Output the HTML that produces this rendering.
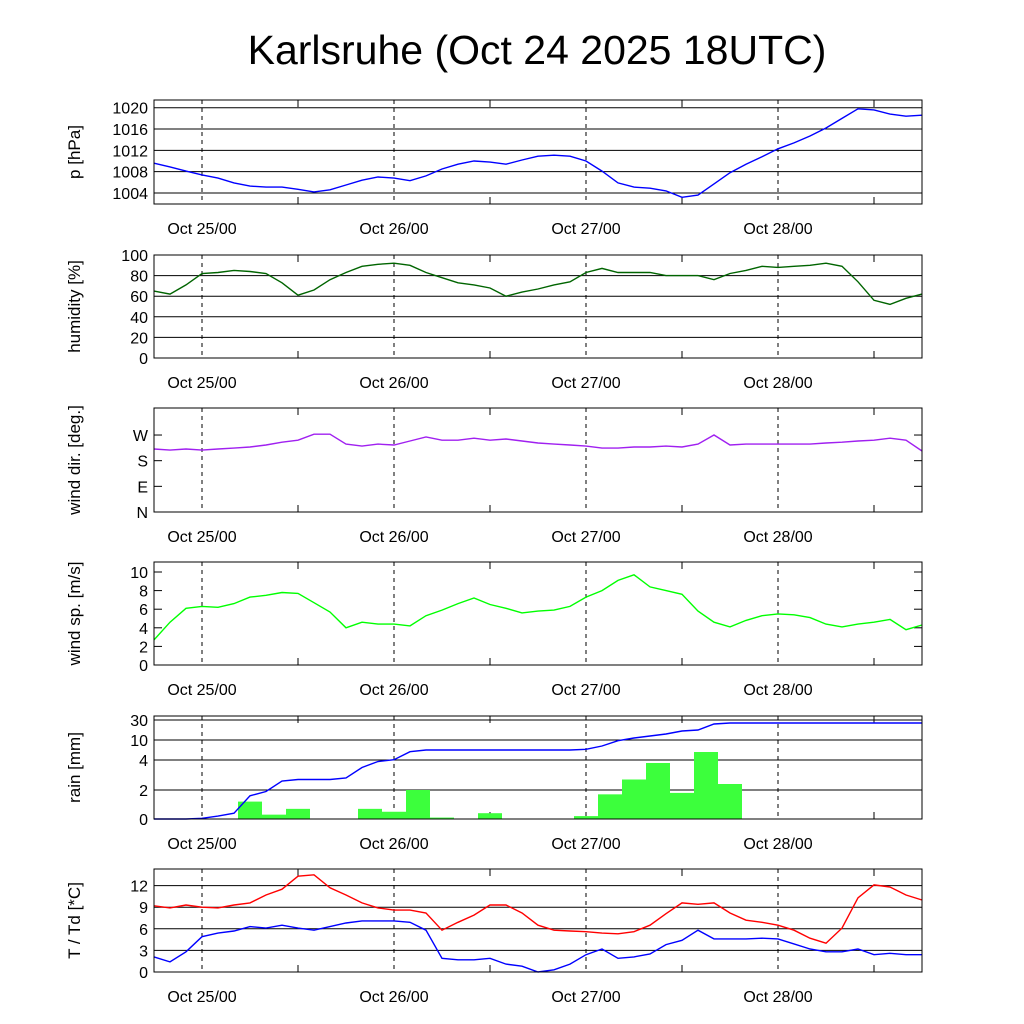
<!DOCTYPE html>
<html><head><meta charset="utf-8"><style>
body{margin:0;background:#fff;}
svg{display:block;font-family:"Liberation Sans",sans-serif;}
</style></head><body>
<svg id="c" width="1024" height="1024" viewBox="0 0 1024 1024">
<text x="537" y="64" font-size="41" text-anchor="middle">Karlsruhe (Oct 24 2025 18UTC)</text>
</svg>
<script>
// time in hours since Oct 24 18UTC, 2-hourly samples
const hours = Array.from({length:49},(_,i)=>i*2);
const dayLabels = ["Oct 25/00","Oct 26/00","Oct 27/00","Oct 28/00"];
const pressure = [1009.6,1008.9,1008.1,1007.4,1006.8,1005.9,1005.3,1005.1,1005.1,1004.7,1004.2,1004.6,1005.5,1006.4,1007,1006.8,1006.3,1007.2,1008.5,1009.4,1010,1009.8,1009.4,1010.2,1010.9,1011.1,1010.9,1010,1008.1,1005.9,1005.1,1004.9,1004.4,1003.2,1003.6,1005.7,1007.8,1009.4,1010.8,1012.3,1013.4,1014.7,1016.2,1018,1019.8,1019.6,1018.8,1018.4,1018.6];
const humidity = [65,62,71,82,83,85,84,82,73,61,66,76,83,89,91,92,90,83,78,73,71,68,60,64,67,71,74,83,87,83,83,83,80,80,80,76,82,85,89,88,89,90,92,89,74,56,52,58,62];
const windDir = [221,217,221,217,221,224,228,235,245,252,273,273,238,231,238,235,249,263,252,252,259,252,256,249,242,238,235,231,224,224,228,228,231,228,238,270,235,238,238,238,238,238,242,245,249,252,259,252,214];
const windSpeed = [2.7,4.6,6.1,6.3,6.2,6.6,7.3,7.5,7.8,7.7,6.7,5.7,4.0,4.6,4.4,4.4,4.2,5.3,5.9,6.6,7.2,6.5,6.1,5.6,5.8,5.9,6.3,7.3,8,9.1,9.7,8.4,8,7.6,5.8,4.6,4.1,4.8,5.3,5.5,5.4,5.1,4.4,4.1,4.4,4.6,4.9,3.8,4.3];
const rainCum = [0,0,0,0.05,0.2,0.4,1.6,1.9,2.6,2.7,2.7,2.7,2.8,3.5,3.9,4.1,6.5,7,7,7,7,7,7,7,7,7,7,7.2,8.2,9.8,12,14,16,19,20,26,27,27,27,27,27,27,27,27,27,27,27,27,27];
const rainBarStart = [10.5,13.5,16.5,25.5,28.5,31.5,34.5,40.5,52.5,55.5,58.5,61.5,64.5,67.5,70.5];
const rainBarVal = [1.2,0.3,0.7,0.7,0.5,2.0,0.1,0.4,0.2,1.7,2.7,3.8,1.8,6.4,2.4];
const temp = [9.2,8.9,9.3,9.0,8.9,9.3,9.6,10.7,11.5,13.3,13.5,11.7,10.7,9.6,8.9,8.6,8.6,8.2,5.8,6.9,7.9,9.3,9.3,8.2,6.5,5.8,5.7,5.6,5.4,5.3,5.6,6.5,8.1,9.6,9.4,9.6,8.2,7.2,6.9,6.5,5.8,4.7,4.0,6.1,10.3,12.1,11.8,10.7,10];
const dew = [2.1,1.4,2.8,4.9,5.4,5.7,6.3,6.1,6.5,6.1,5.8,6.3,6.8,7.1,7.1,7.1,6.9,5.8,1.9,1.7,1.7,1.9,1.1,0.8,0,0.3,1.1,2.4,3.2,1.9,2.1,2.5,3.8,4.4,5.8,4.6,4.6,4.6,4.7,4.6,3.9,3.2,2.8,2.8,3.2,2.4,2.6,2.4,2.4];

const NS="http://www.w3.org/2000/svg";
const svg=document.getElementById('c');
const X0=154,X1=922;
const xs=h=>X0+h*(X1-X0)/96;
function mk(tag,attrs,parent){const e=document.createElementNS(NS,tag);for(const k in attrs)e.setAttribute(k,attrs[k]);(parent||svg).appendChild(e);return e;}

function panel(name,top,bot,label,ticks,tickLabels,grid,yf){
  const g=mk('g',{});
  
  
  ticks.forEach((v,i)=>{
    const y=yf(v);
    if(grid) mk('line',{x1:X0,x2:X1,y1:y,y2:y,stroke:'#000','stroke-width':1},g);
    else { mk('line',{x1:X0,x2:X0+8,y1:y,y2:y,stroke:'#000'},g); mk('line',{x1:X1-8,x2:X1,y1:y,y2:y,stroke:'#000'},g); }
    const t=mk('text',{x:X0-6,y:y+6,'font-size':16,'text-anchor':'end'},g);
    
    
    t.textContent=tickLabels[i];
  });
  for(let h=6;h<96;h+=12){
    const x=xs(h);
    if((h-6)%24===0){mk('line',{x1:x,x2:x,y1:top,y2:bot,stroke:'#000','stroke-dasharray':'4,4'},g);}
    else{mk('line',{x1:x,x2:x,y1:top,y2:top+7,stroke:'#000'},g);mk('line',{x1:x,x2:x,y1:bot,y2:bot-7,stroke:'#000'},g);}
  }
  dayLabels.forEach((d,i)=>{
    const t=mk('text',{x:xs(6+24*i),y:bot+30,'font-size':16,'text-anchor':'middle'},g);
    
    
    t.textContent=d;
  });
  const yl=mk('text',{x:0,y:0,'font-size':17,'text-anchor':'middle',transform:`translate(${X0-74},${(top+bot)/2}) rotate(-90)`},g);
  
  
  yl.textContent=label;
  return g;
}
function frame(g,top,bot){mk('rect',{x:X0,y:top,width:X1-X0,height:bot-top,fill:'none',stroke:'#000'},g);}
function line(g,name,vals,yf,color){
  const p=mk('polyline',{points:vals.map((v,i)=>xs(hours[i]).toFixed(1)+','+yf(v).toFixed(1)).join(' '),fill:'none',stroke:color,'stroke-width':1.4},g);
  
  
}

// pressure
let yp=v=>193-(v-1004)*5.33;
let g=panel('pressure',100,204,'p [hPa]',[1004,1008,1012,1016,1020],['1004','1008','1012','1016','1020'],true,yp);
line(g,'pressure-line',pressure,yp,'#0000ff');frame(g,100,204);
// humidity
let yh=v=>358-v*1.03;
g=panel('humidity',255,358,'humidity [%]',[0,20,40,60,80,100],['0','20','40','60','80','100'],true,yh);
line(g,'humidity-line',humidity,yh,'#006400');frame(g,255,358);
// wind dir
let yd=v=>512-v*0.2851;
g=panel('wind-dir',408,512,'wind dir. [deg.]',[0,90,180,270],['N','E','S','W'],false,yd);
line(g,'wind-dir-line',windDir,yd,'#a020f0');frame(g,408,512);
// wind speed
let ys=v=>665-v*9.3;
g=panel('wind-speed',562,665,'wind sp. [m/s]',[0,2,4,6,8,10],['0','2','4','6','8','10'],false,ys);
line(g,'wind-speed-line',windSpeed,ys,'#00ff00');frame(g,562,665);
// rain
const rv=[0,2,4,10,30,40],ry=[819,790,760,740,720,712];
function yr(v){for(let i=0;i<rv.length-1;i++){if(v<=rv[i+1])return ry[i]+(v-rv[i])/(rv[i+1]-rv[i])*(ry[i+1]-ry[i]);}return 712;}
g=panel('rain',716,819,'rain [mm]',[0,2,4,10,30],['0','2','4','10','30'],true,yr);
rainBarStart.forEach((h,i)=>{
  const r=mk('rect',{x:xs(h),y:yr(rainBarVal[i]),width:xs(h+3)-xs(h),height:819-yr(rainBarVal[i]),fill:'#3cff3c'},g);
  
  
});
line(g,'rain-cumulative-line',rainCum,yr,'#0000ff');frame(g,716,819);
// temperature
let yt=v=>972-v*7.2;
g=panel('temperature',869,972,'T / Td [*C]',[0,3,6,9,12],['0','3','6','9','12'],true,yt);
line(g,'temperature-line',temp,yt,'#ff0000');
line(g,'dewpoint-line',dew,yt,'#0000ff');frame(g,869,972);
</script>
</body></html>
